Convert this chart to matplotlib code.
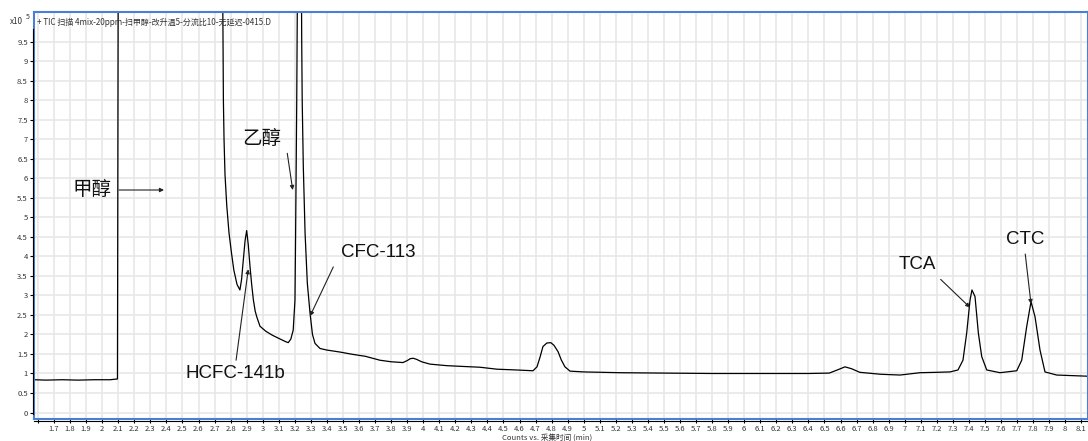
import matplotlib
matplotlib.use("Agg")
import matplotlib.pyplot as plt
from matplotlib.lines import Line2D
import numpy as np

plt.rcParams["font.family"] = ["Noto Sans CJK SC", "DejaVu Sans"]

# TIC trace: retention time (min) vs counts (x10^5); the two solvent peaks run off the top
time_min = [
    1.575, 1.65, 1.75, 1.85, 1.95, 2.05, 2.095, 2.100, 2.748, 2.752,
    2.755, 2.759, 2.765, 2.776, 2.79, 2.805, 2.82, 2.84, 2.858, 2.868,
    2.879, 2.890, 2.900, 2.910, 2.921, 2.932, 2.942, 2.953, 2.963, 2.983,
    3.02, 3.06, 3.10, 3.14, 3.159, 3.175, 3.190, 3.201, 3.205, 3.212,
    3.215, 3.218, 3.240, 3.243, 3.246, 3.253, 3.264, 3.278, 3.295, 3.31,
    3.326, 3.357, 3.40, 3.48, 3.56, 3.64, 3.73, 3.80, 3.874, 3.90,
    3.92, 3.938, 3.96, 3.99, 4.042, 4.148, 4.25, 4.354, 4.459, 4.58,
    4.684, 4.709, 4.728, 4.746, 4.77, 4.795, 4.815, 4.84, 4.86, 4.883,
    4.915, 5.0, 5.226, 5.5, 5.8, 6.1, 6.4, 6.53, 6.58, 6.628,
    6.67, 6.72, 6.85, 6.971, 7.095, 7.2, 7.282, 7.332, 7.363, 7.386,
    7.407, 7.419, 7.438, 7.459, 7.48, 7.511, 7.594, 7.698, 7.729, 7.76,
    7.787, 7.812, 7.843, 7.874, 7.947, 8.142,
]
counts_e5 = [
    0.84, 0.83, 0.84, 0.83, 0.84, 0.84, 0.86, 12.0, 12.0, 10.0,
    8.0, 7.0, 6.1, 5.3, 4.6, 4.1, 3.65, 3.28, 3.14, 3.4,
    3.9, 4.4, 4.66, 4.3, 3.73, 3.25, 2.88, 2.6, 2.45, 2.21,
    2.08, 1.98, 1.90, 1.82, 1.79, 1.88, 2.11, 2.88, 4.59, 8.0,
    10.0, 12.0, 12.0, 9.5, 8.0, 6.29, 4.59, 3.31, 2.54, 2.0,
    1.77, 1.64, 1.60, 1.55, 1.49, 1.44, 1.34, 1.30, 1.28, 1.33,
    1.38, 1.39, 1.36, 1.30, 1.24, 1.20, 1.18, 1.16, 1.11, 1.09,
    1.07, 1.17, 1.42, 1.69, 1.78, 1.79, 1.72, 1.56, 1.35, 1.17,
    1.06, 1.04, 1.02, 1.01, 1.00, 1.00, 1.00, 1.01, 1.09, 1.17,
    1.12, 1.03, 0.98, 0.96, 1.02, 1.03, 1.04, 1.09, 1.34, 2.03,
    2.88, 3.14, 2.97, 2.03, 1.43, 1.09, 1.02, 1.07, 1.34, 2.20,
    2.84, 2.45, 1.60, 1.04, 0.96, 0.93,
]

x_ticks = np.round(np.arange(1.6, 8.15, 0.1), 1)
y_ticks = np.arange(0, 10.0, 0.5)

peak_labels = ["甲醇", "乙醇", "HCFC-141b", "CFC-113", "TCA", "CTC"]

title = "+ TIC 扫描 4mix-20ppm-扫甲醇-改升温5-分流比10-无延迟-0415.D"
xlabel = "Counts vs. 采集时间 (min)"

W, H = 1088, 441
fig = plt.figure(figsize=(W / 100, H / 100), dpi=100)
ax = fig.add_axes([34 / W, (H - 419) / H, (W - 34) / W, (419 - 12) / H])

ax.plot(time_min, counts_e5, color="black", lw=0.9)
ax.set_xlim(1.575, 8.142)
ax.set_ylim(-0.166, 10.26)

ax.set_xticks(x_ticks)
ax.set_xticklabels(["" if t == 1.6 else f"{t:g}" for t in x_ticks])
ax.set_yticks(y_ticks)
ax.set_yticklabels([f"{t:g}" for t in y_ticks])
ax.tick_params(axis="both", direction="out", length=3, width=0.8, colors="black",
               labelsize=5.5, labelcolor="#333333", pad=1.5)
ax.grid(True, color="#e6e6e6", lw=1.1)
ax.set_axisbelow(True)
for sp in ax.spines.values():
    sp.set_color("#4a7fd6")
    sp.set_linewidth(1.5)

# black axis lines just outside the blue frame
fig.add_artist(Line2D([32.7 / W, 32.7 / W], [(H - 29) / H, (H - 414) / H],
                      transform=fig.transFigure, color="black", lw=0.8))
fig.add_artist(Line2D([34 / W, 1.0], [(H - 421) / H, (H - 421) / H],
                      transform=fig.transFigure, color="black", lw=0.8))

ax.text(0.003, 0.985, title, transform=ax.transAxes, ha="left", va="top",
        fontsize=5.8, color="#333333")
fig.text(10 / W, (H - 22) / H, "x10", fontsize=5.8, color="#333333", va="center")
fig.text(26 / W, (H - 17) / H, "5", fontsize=5, color="#333333", va="center")
fig.text(547 / W, (H - 437.5) / H, xlabel, fontsize=5.5, color="#333333",
         ha="center", va="center")

# peak labels: text position, arrow tail, arrow head
label_pos = [(1.936, 5.72), (2.996, 7.03), (2.830, 0.99), (3.718, 4.11), (7.077, 3.80), (7.753, 4.44)]
arrow_from = [(2.105, 5.70), (3.153, 6.64), (2.834, 1.34), (3.44, 3.73), (7.224, 3.41), (7.751, 4.06)]
arrow_to = [(2.385, 5.70), (3.187, 5.70), (2.91, 3.67), (3.295, 2.47), (7.407, 2.69), (7.787, 2.78)]

for lab, pos, a0, a1 in zip(peak_labels, label_pos, arrow_from, arrow_to):
    if lab.isascii():
        ax.text(*pos, lab, ha="center", va="center", fontsize=13.5,
                family="Liberation Sans", color="#111111")
    else:
        ax.text(*pos, lab, ha="center", va="center", fontsize=14, color="#111111")
    ax.annotate("", xy=a1, xytext=a0,
                arrowprops=dict(arrowstyle="-|>", lw=0.8, color="#222222",
                                mutation_scale=6, shrinkA=0, shrinkB=0))

fig.savefig("out.png", dpi=100)
